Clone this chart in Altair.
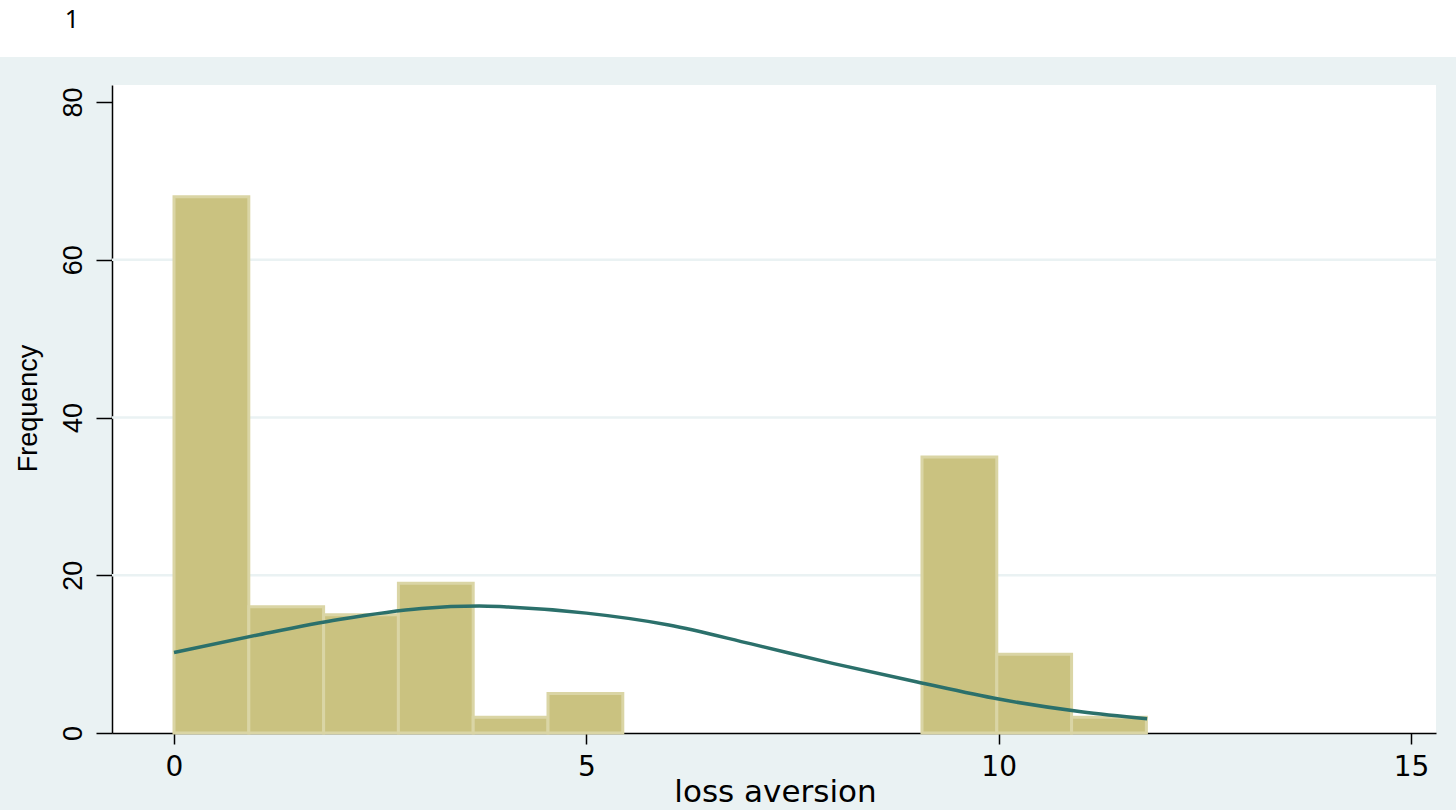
import altair as alt
import pandas as pd

# Histogram of loss aversion with a normal density overlay
bin_width = 0.907
counts = [68, 16, 15, 19, 2, 5, 0, 0, 0, 0, 35, 10, 2]

# Normal density curve (frequency scale)
curve_x = [0, 1, 2, 3, 3.7, 4, 5, 6, 7, 8, 9, 10, 11, 11.8]
curve_y = [10.2, 12.4, 14.4, 15.8, 16.1, 16.0, 15.2, 13.7, 11.3, 8.8, 6.5, 4.3, 2.7, 1.8]

x_ticks = [0, 5, 10, 15]
y_ticks = [0, 20, 40, 60, 80]
grid_levels = [20, 40, 60]

BG = "#EAF2F3"
BAR_FILL = "#CAC280"
BAR_EDGE = "#DAD5A5"
LINE = "#2B706B"

bars = pd.DataFrame({
    "lo": [i * bin_width for i in range(len(counts))],
    "hi": [(i + 1) * bin_width for i in range(len(counts))],
    "count": counts,
})
bars = bars[bars["count"] > 0]

curve = pd.DataFrame({"x": curve_x, "y": curve_y})
grid = pd.DataFrame({"g": grid_levels})
note = pd.DataFrame({"label": ["1"]})

x_scale = alt.Scale(domain=[-0.752, 15.303], nice=False, zero=False)
y_scale = alt.Scale(domain=[0, 82.16], nice=False)

x_axis = alt.Axis(
    values=x_ticks, format="d", title="loss aversion", grid=False,
    labelFont="DejaVu Sans", labelFontSize=28, labelColor="black",
    labelPadding=9, labelFlush=False, labelOverlap=False,
    tickSize=11, tickWidth=1.5, tickColor="black",
    domainColor="black", domainWidth=1.5,
    titleFont="DejaVu Sans", titleFontSize=31, titleFontWeight="normal",
    titleColor="black", titleBaseline="alphabetic", titleX=663, titleY=68,
)
y_axis = alt.Axis(
    values=y_ticks, format="d", title="Frequency", grid=False,
    labelFont="Liberation Sans", labelFontSize=27, labelColor="black",
    labelAngle=270, labelAlign="center", labelBaseline="alphabetic",
    labelPadding=15, labelFlush=False, labelOverlap=False,
    tickSize=16, tickWidth=1.5, tickColor="black",
    domainColor="black", domainWidth=1.5,
    titleFont="Liberation Sans", titleFontSize=27, titleFontWeight="normal",
    titleColor="black", titleAngle=270, titleAlign="center",
    titleBaseline="middle", titleX=-84, titleY=323,
)

grid_layer = alt.Chart(grid).mark_rule(color=BG, strokeWidth=2.5).encode(
    y=alt.Y("g:Q", scale=y_scale, axis=y_axis),
)

bar_layer = alt.Chart(bars).mark_rect(
    fill=BAR_FILL, stroke=BAR_EDGE, strokeWidth=3
).encode(
    x=alt.X("lo:Q", scale=x_scale, axis=x_axis),
    x2="hi:Q",
    y=alt.Y("count:Q", scale=y_scale, axis=y_axis),
    y2=alt.datum(0),
)

curve_layer = alt.Chart(curve).mark_line(
    color=LINE, strokeWidth=3.5, interpolate="monotone"
).encode(
    x=alt.X("x:Q", scale=x_scale, axis=x_axis),
    y=alt.Y("y:Q", scale=y_scale, axis=y_axis),
)

# White header strip with the page number
strip = alt.Chart(note).mark_rect(fill="white").encode(
    x=alt.value(-112), x2=alt.value(1344),
    y=alt.value(-85), y2=alt.value(-28),
)
page_no = alt.Chart(note).mark_text(
    font="Noto Sans", fontSize=25, color="black", align="center", baseline="alphabetic"
).encode(
    text="label:N", x=alt.value(-40), y=alt.value(-57),
)

chart = alt.layer(grid_layer, bar_layer, curve_layer, strip, page_no).properties(
    width=1324, height=648,
    autosize=alt.AutoSizeParams(type="none"),
    padding={"left": 112, "top": 85, "right": 20, "bottom": 77},
    background=BG,
).configure_view(fill="white", strokeWidth=0)

chart.save("out.html", embed_options={"renderer": "svg", "actions": False})
